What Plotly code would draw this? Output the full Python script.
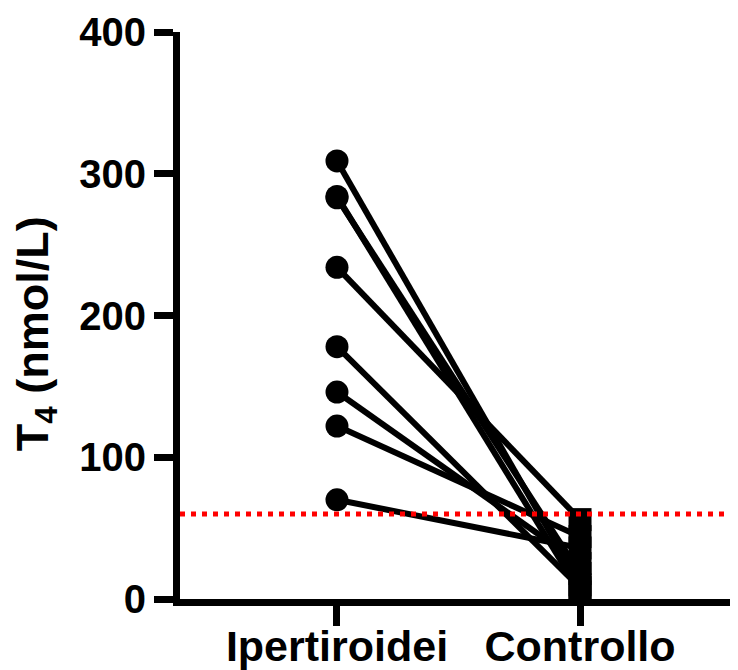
import plotly.graph_objects as go

groups = ["Ipertiroidei", "Controllo"]
ipertiroidei = [309, 284, 283, 234, 178, 146, 122, 70]
controllo = [10, 5, 18, 56, 8, 25, 44, 36]
threshold = 60
y_ticks = [0, 100, 200, 300, 400]

fig = go.Figure()
for a, b in zip(ipertiroidei, controllo):
    fig.add_trace(go.Scatter(
        x=[0, 1], y=[a, b], mode="lines+markers",
        line=dict(color="black", width=6),
        marker=dict(symbol=["circle", "square"], size=23, color="black",
                    line=dict(width=0)),
        showlegend=False, cliponaxis=False,
    ))

fig.add_shape(type="line", xref="paper", yref="y", x0=0, x1=1,
              y0=threshold, y1=threshold,
              line=dict(color="#ff0000", width=5, dash="5px,6px"))

fig.add_annotation(text="<b>T<sub>4</sub> (nmol/L)</b>", textangle=-90,
                   xref="paper", yref="paper", x=-0.256, y=0.467,
                   xanchor="center", yanchor="middle", showarrow=False,
                   font=dict(size=45))

font = "Liberation Sans, Arial, sans-serif"
fig.update_layout(
    width=738, height=670,
    margin=dict(l=172, r=0, t=24, b=79, autoexpand=False),
    plot_bgcolor="white", paper_bgcolor="white",
    font=dict(family=font, color="black"),
    xaxis=dict(range=[-0.646, 1.683], tickvals=[0, 1],
               ticktext=[f"<b>{g}</b>" for g in groups],
               showline=True, linecolor="black", linewidth=7,
               ticks="outside", ticklen=20, tickwidth=7, tickcolor="black",
               tickfont=dict(size=43, family=font), showgrid=False,
               zeroline=False, automargin=False, ticklabelstandoff=-17),
    yaxis=dict(range=[0, 400], tickvals=y_ticks,
               ticktext=[f"<b>{t}</b>" for t in y_ticks],
               showline=True, linecolor="black", linewidth=7,
               ticks="outside", ticklen=19, tickwidth=7, tickcolor="black",
               tickfont=dict(size=40, family=font), showgrid=False,
               zeroline=False, automargin=False),
)

fig.write_html("out.html")
